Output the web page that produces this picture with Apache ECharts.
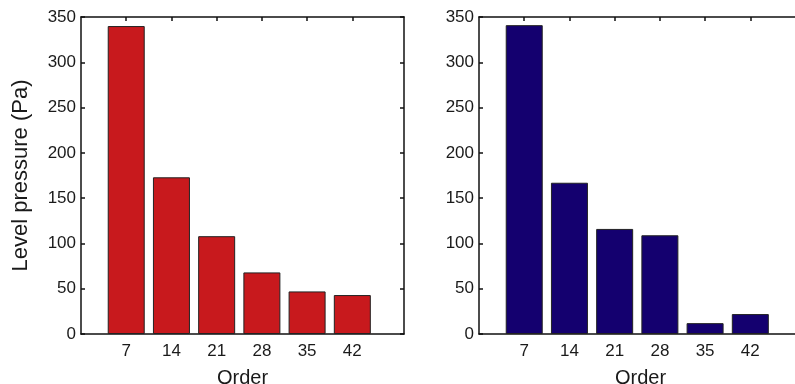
<!DOCTYPE html>
<html>
<head>
<meta charset="utf-8">
<script src="https://cdn.jsdelivr.net/npm/echarts@6/dist/echarts.min.js"></script>
<style>html,body{margin:0;padding:0;background:#fff;}#c{width:795px;height:384px;}</style>
</head>
<body>
<div id="c"></div>
<script>
const orders = [7, 14, 21, 28, 35, 42];
const leftValues = [340, 173, 108, 68, 47, 43];
const rightValues = [341, 167, 116, 109, 12, 22];
const yTickLabels = [0, 50, 100, 150, 200, 250, 300, 350];

const chart = echarts.init(document.getElementById('c'), null, {renderer: 'canvas'});
const FONT = 'Liberation Sans, Arial, sans-serif';
const lineStyle = {color: '#111', width: 1.5};

function xAxes(gi) {
  return [
    {
      type: 'value', gridIndex: gi, min: 0, max: 50, position: 'bottom',
      name: 'Order', nameLocation: 'middle', nameGap: 34,
      nameTextStyle: {fontFamily: FONT, fontSize: 20, color: '#1a1a1a'},
      axisLine: {show: true, onZero: false, lineStyle},
      axisTick: {show: true, inside: true, length: 4, customValues: orders, lineStyle},
      axisLabel: {show: true, customValues: orders, fontFamily: FONT, fontSize: 17, color: '#1a1a1a', margin: 9},
      splitLine: {show: false}
    },
    {
      type: 'value', gridIndex: gi, min: 0, max: 50, position: 'top',
      axisLine: {show: true, onZero: false, lineStyle},
      axisTick: {show: true, inside: true, length: 4, customValues: orders, lineStyle},
      axisLabel: {show: false},
      splitLine: {show: false}
    }
  ];
}
function yAxes(gi, name) {
  return [
    {
      type: 'value', gridIndex: gi, min: 0, max: 350, interval: 50, position: 'left',
      name: name, nameLocation: 'middle', nameGap: 49, nameRotate: 90,
      nameTextStyle: {fontFamily: FONT, fontSize: 22, color: '#1a1a1a'},
      axisLine: {show: true, onZero: false, lineStyle},
      axisTick: {show: true, inside: true, length: 4, lineStyle},
      axisLabel: {show: true, fontFamily: FONT, fontSize: 17, color: '#1a1a1a', margin: 5,
        formatter: v => yTickLabels.includes(v) ? String(v) : ''},
      splitLine: {show: false}
    },
    {
      type: 'value', gridIndex: gi, min: 0, max: 350, interval: 50, position: 'right',
      axisLine: {show: true, onZero: false, lineStyle},
      axisTick: {show: true, inside: true, length: 4, lineStyle},
      axisLabel: {show: false},
      splitLine: {show: false}
    }
  ];
}

const option = {
  animation: false,
  backgroundColor: '#fff',
  grid: [
    {left: 81, top: 17, width: 323, height: 317, containLabel: false, outerBoundsMode: 'none'},
    {left: 479, top: 17, width: 323, height: 317, containLabel: false, outerBoundsMode: 'none'}
  ],
  xAxis: [...xAxes(0), ...xAxes(1)],
  yAxis: [...yAxes(0, 'Level pressure (Pa)'), ...yAxes(1, '')],
  series: [
    {
      type: 'bar', xAxisIndex: 0, yAxisIndex: 0, barWidth: 37,
      data: orders.map((o, i) => [o, leftValues[i]]),
      itemStyle: {color: '#C8191D', borderColor: '#222', borderWidth: 1}
    },
    {
      type: 'bar', xAxisIndex: 2, yAxisIndex: 2, barWidth: 37,
      data: orders.map((o, i) => [o, rightValues[i]]),
      itemStyle: {color: '#14006F', borderColor: '#222', borderWidth: 1}
    }
  ]
};
chart.setOption(option);
</script>
</body>
</html>
